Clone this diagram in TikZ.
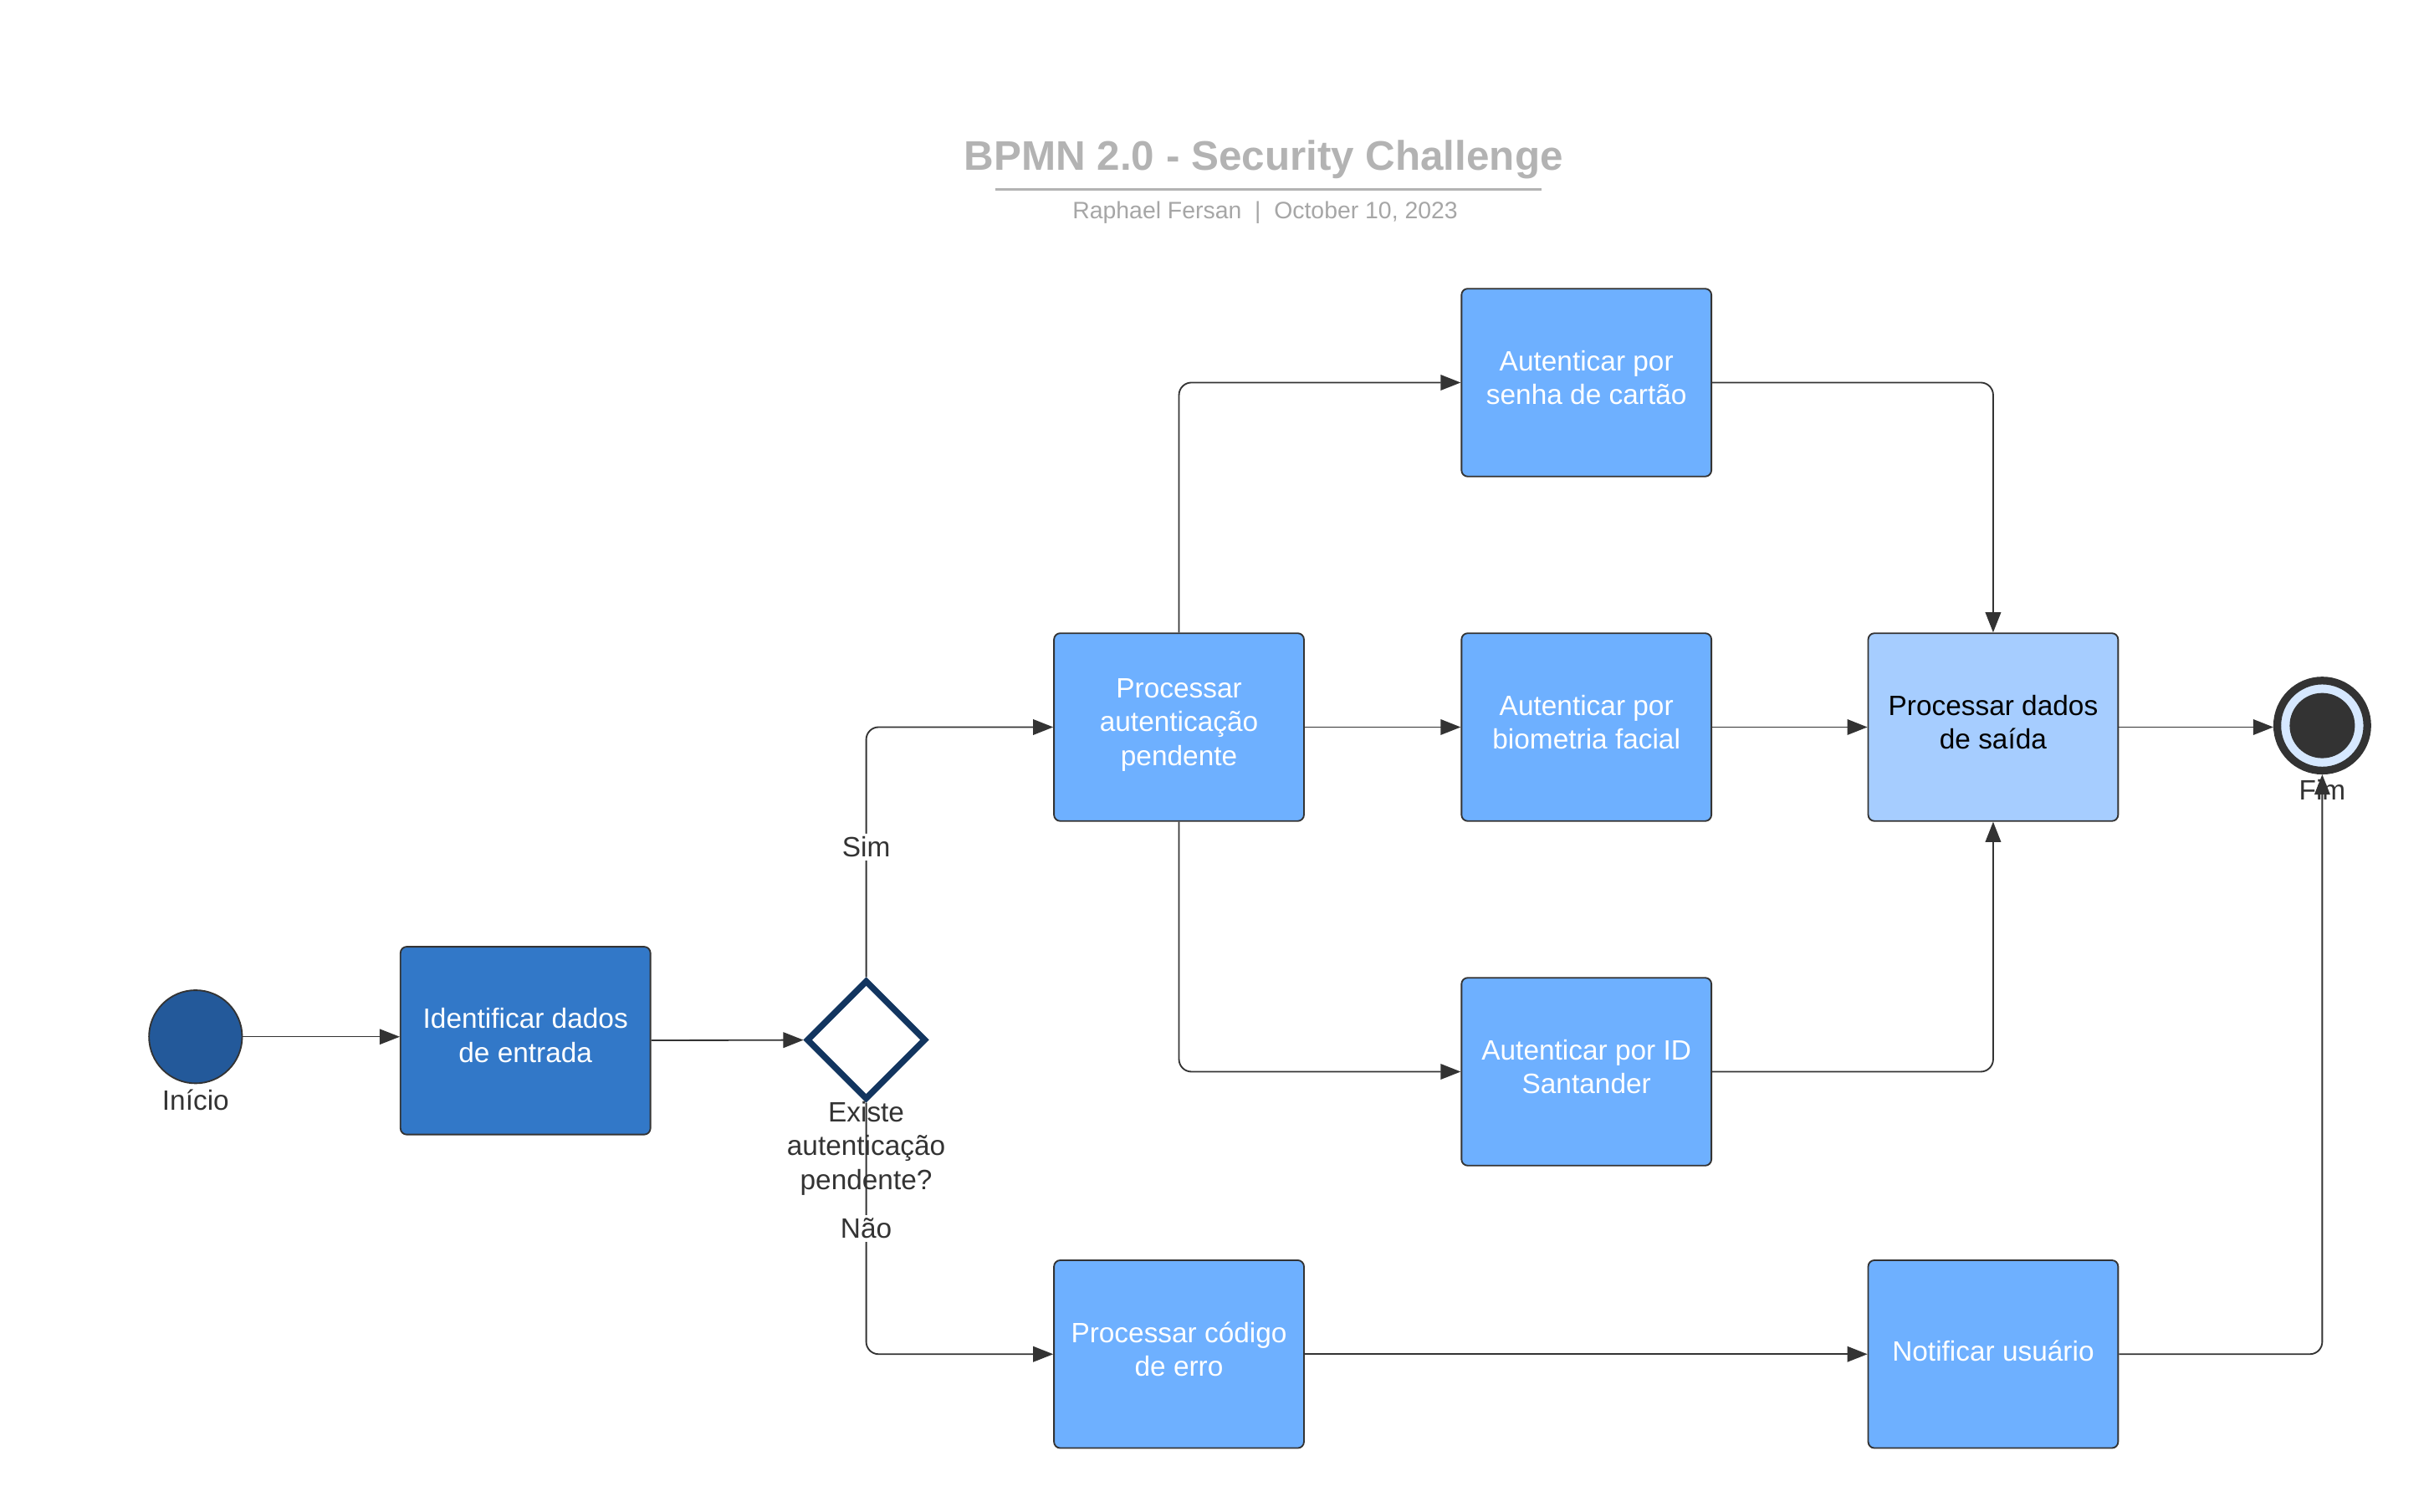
\documentclass[tikz,border=0pt]{standalone}
\usepackage{fontspec}
\setmainfont{Liberation Sans}
\usepackage{tikz}
\usetikzlibrary{arrows.meta}
\usetikzlibrary{shapes.geometric}

\definecolor{linegray}{HTML}{333333}
\definecolor{startblue}{HTML}{23599A}
\definecolor{darkblue}{HTML}{3278C8}
\definecolor{taskblue}{HTML}{6EB0FF}
\definecolor{paleblue}{HTML}{A6CDFF}
\definecolor{gatenavy}{HTML}{12355F}
\definecolor{ringblue}{HTML}{D6E8FF}
\definecolor{titlegray}{HTML}{B3B3B3}
\definecolor{subgray}{HTML}{A6A6A6}

\tikzset{
    task/.style={draw=linegray, line width=1pt, rounded corners=4pt,
        minimum width=161pt, minimum height=121pt, inner sep=0pt,
        align=center, fill=taskblue, text=white,
        font=\fontsize{18}{22}\selectfont,
        execute at begin node=\strut, execute at end node=\strut},
    flow/.style={draw=linegray, line width=1pt, rounded corners=8pt,
        -{Triangle[length=13pt,width=10pt]}},
    evlabel/.style={text=linegray, inner sep=0pt, align=center,
        font=\fontsize{18}{22}\selectfont},
    flowlabel/.style={evlabel, fill=white, inner sep=2pt},
}

\begin{document}
\begin{tikzpicture}[x=1pt,y=-1pt]
        \useasboundingbox (0,0) rectangle (1568,974);

        % Title block
        \node (title) [text=titlegray, font=\bfseries\fontsize{26.6}{32}\selectfont]
            at (814,103) {BPMN 2.0 - Security Challenge};
        \draw [titlegray, line width=2pt] (641,122) -- (993,122);
        \node (subtitle) [text=subgray, font=\fontsize{15.3}{18}\selectfont]
            at (815,137) {Raphael Fersan~~|~~October 10, 2023};

        % Events
        \node (inicio) [circle, draw=linegray, line width=1pt, fill=startblue,
            minimum size=60pt, inner sep=0pt] at (126,668) {};
        \node (inicioLabel) [evlabel] at (126,709) {Início};
        \node (fim) [circle, draw=linegray, line width=5pt, fill=ringblue,
            minimum size=58pt, inner sep=0pt] at (1496,467.5) {};
        \node (fimCore) [circle, fill=linegray, minimum size=42pt,
            inner sep=0pt] at (1496,467.5) {};
        \node (fimLabel) [evlabel] at (1496,509) {Fim};

        % Gateway
        \node (gate) [diamond, shape aspect=1, draw=gatenavy, line width=4pt,
            fill=white, minimum size=77pt, inner sep=0pt] at (558,670) {};
        \node (gateLabel) [evlabel] at (558,740)
            {Existe\\autenticação\\pendente?};

        % Tasks
        \node (identificar) [task, fill=darkblue] at (338.5,670.5)
            {Identificar dados\\de entrada};
        \node (procAuth) [task] at (759.5,468.5)
            {Processar\\autenticação\\pendente};
        \node (senha) [task] at (1022,246.5)
            {Autenticar por\\senha de cartão};
        \node (biometria) [task] at (1022,468.5)
            {Autenticar por\\biometria facial};
        \node (santander) [task] at (1022,690.5)
            {Autenticar por ID\\Santander};
        \node (saida) [task, fill=paleblue, text=black] at (1284,468.5)
            {Processar dados\\de saída};
        \node (erro) [task] at (759.5,872.5)
            {Processar código\\de erro};
        \node (notificar) [task] at (1284,872.5)
            {Notificar usuário};

        % Sequence flows
        \draw [flow, line width=0.7pt] (inicio) -- (inicio -| identificar.west);
        \draw [flow] (identificar) -- (gate);
        \draw [flow] (gate.north) |- node [flowlabel, pos=0.26] {Sim}
            (procAuth.west);
        \draw [flow] (gate.south) |- node [flowlabel, pos=0.25] {Não}
            (erro.west);
        \draw [flow] (procAuth.north) |- (senha.west);
        \draw [flow] (procAuth) -- (biometria);
        \draw [flow] (procAuth.south) |- (santander.west);
        \draw [flow] (senha.east) -| (saida.north);
        \draw [flow] (biometria) -- (saida);
        \draw [flow] (santander.east) -| (saida.south);
        \draw [flow] (saida) -- (saida -| fim.west);
        \draw [flow] (erro) -- (notificar);
        \draw [flow] (notificar.east) -| (fim.south);

\end{tikzpicture}
\end{document}
